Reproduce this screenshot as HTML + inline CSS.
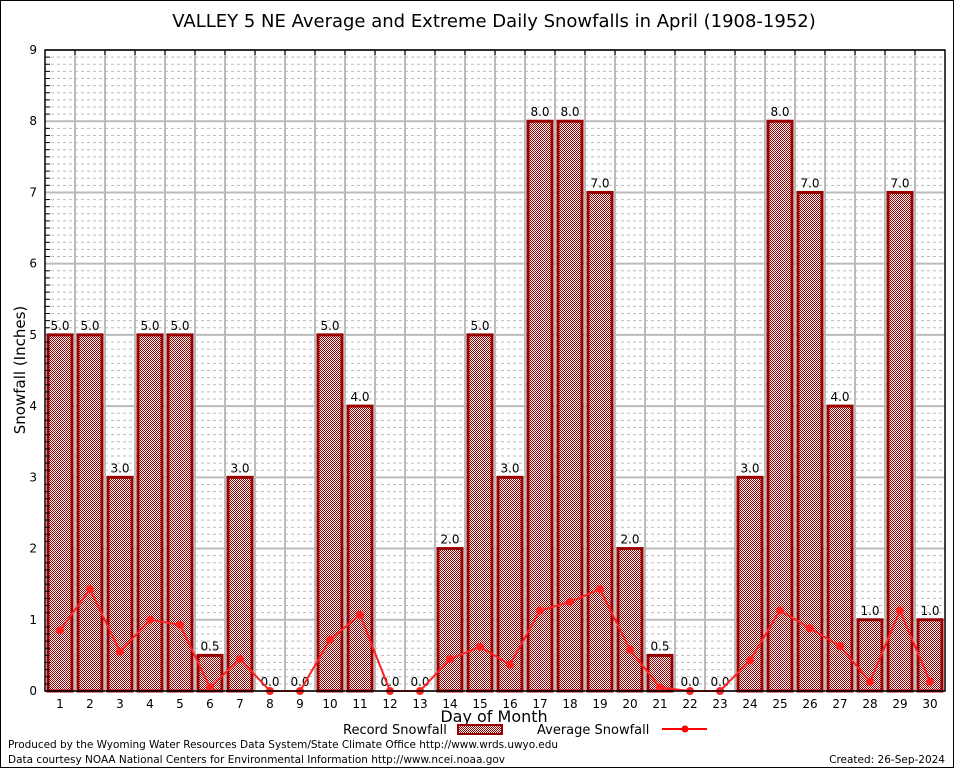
<!DOCTYPE html>
<html><head><meta charset="utf-8"><style>
body{margin:0;background:#fff;}
svg text{font-family:"DejaVu Sans","Liberation Sans",sans-serif;}
</style></head><body>
<svg width="954" height="768" xmlns="http://www.w3.org/2000/svg">
<defs>
<pattern id="chk" width="2" height="2" patternUnits="userSpaceOnUse">
<rect width="2" height="2" fill="#fff"/><rect width="1" height="1" fill="#990000"/><rect x="1" y="1" width="1" height="1" fill="#990000"/>
</pattern>
</defs>
<rect x="0.5" y="0.5" width="953" height="767" fill="#fff" stroke="#000"/>
<text x="494" y="27" font-size="18" text-anchor="middle">VALLEY 5 NE Average and Extreme Daily Snowfalls in April (1908-1952)</text>
<g id="grid"></g>
<g id="bars"></g>
<g id="line"></g>
<g id="axes"></g>
<text x="25" y="370" font-size="15" text-anchor="middle" transform="rotate(-90 25 370)">Snowfall (Inches)</text>
<text x="494" y="722" font-size="16" text-anchor="middle">Day of Month</text>
<g>
<text x="343" y="734" font-size="13">Record Snowfall</text>
<rect x="458" y="725" width="44" height="9" fill="url(#chk)" stroke="#990000" stroke-width="2"/>
<text x="537" y="734" font-size="13">Average Snowfall</text>
<line x1="662" y1="729" x2="707" y2="729" stroke="#f00" stroke-width="2"/>
<circle cx="685" cy="729" r="3.5" fill="#f00"/>
</g>
<text x="8" y="748" font-size="10.5" textLength="550">Produced by the Wyoming Water Resources Data System/State Climate Office http://www.wrds.uwyo.edu</text>
<text x="8" y="763" font-size="10.5" textLength="497">Data courtesy NOAA National Centers for Environmental Information http://www.ncei.noaa.gov</text>
<text x="945" y="763" font-size="10.5" text-anchor="end">Created:  26-Sep-2024</text>
</svg>
<script>
const days=[1,2,3,4,5,6,7,8,9,10,11,12,13,14,15,16,17,18,19,20,21,22,23,24,25,26,27,28,29,30];
const records=[5,5,3,5,5,0.5,3,0,0,5,4,0,0,2,5,3,8,8,7,2,0.5,0,0,3,8,7,4,1,7,1];
const averages=[0.85,1.43,0.55,1.0,0.93,0.05,0.45,0,0,0.72,1.07,0,0,0.45,0.62,0.37,1.13,1.25,1.43,0.58,0.05,0,0,0.43,1.13,0.88,0.63,0.13,1.13,0.13];
const yTicks=[0,1,2,3,4,5,6,7,8,9];
const NS="http://www.w3.org/2000/svg";
const L=45,R=945,T=50,B=691,YMAX=9;
const xc=d=>L+(d-0.5)*(R-L)/days.length;
const y=v=>B-v*(B-T)/YMAX;
function mk(t,a,p){const e=document.createElementNS(NS,t);for(const k in a)e.setAttribute(k,a[k]);p.appendChild(e);return e;}
const grid=document.getElementById('grid'),bars=document.getElementById('bars'),line=document.getElementById('line'),axes=document.getElementById('axes');
for(let i=1;i<YMAX*10;i++){if(i%10===0)continue;const g=mk('line',{x1:L,x2:R,y1:y(i/10),y2:y(i/10),stroke:'#bbb','stroke-dasharray':'3,3','stroke-width':1},grid);


const tk=mk('line',{x1:L,x2:L+5,y1:y(i/10),y2:y(i/10),stroke:'#000'},axes);

}
yTicks.forEach(v=>{const g=mk('line',{x1:L,x2:R,y1:y(v),y2:y(v),stroke:'#bbb','stroke-width':2},grid);


const t=mk('text',{x:L-8,y:y(v)+4,'font-size':12,'text-anchor':'end','font-family':'Liberation Serif,serif'},axes);t.textContent=v;

});
for(let i=1;i<days.length;i++){const x=L+i*(R-L)/days.length;const g=mk('line',{x1:x,x2:x,y1:T,y2:B,stroke:'#bbb','stroke-width':2},grid);


const tk=mk('line',{x1:x,x2:x,y1:T,y2:T+5,stroke:'#000'},axes);

}
days.forEach((d,i)=>{const v=records[i];
if(v>0){const r=mk('rect',{x:xc(d)-12,y:y(v),width:24,height:B-y(v),fill:'url(#chk)',stroke:'#990000','stroke-width':3},bars);

}
const t=mk('text',{x:xc(d),y:y(v)-5,'font-size':12,'text-anchor':'middle'},bars);t.textContent=v.toFixed(1);


const xl=mk('text',{x:xc(d),y:B+17,'font-size':12,'text-anchor':'middle','font-family':'Liberation Serif,serif'},axes);xl.textContent=d;

});
const pl=mk('polyline',{points:days.map((d,i)=>xc(d)+','+y(averages[i])).join(' '),fill:'none',stroke:'#f22','stroke-width':2},line);


days.forEach((d,i)=>{const c=mk('circle',{cx:xc(d),cy:y(averages[i]),r:4,fill:'#f22'},line);

});
const fr=mk('rect',{x:L,y:T,width:R-L,height:B-T,fill:'none',stroke:'#000','stroke-width':1.5},axes);


</script>
</body></html>
